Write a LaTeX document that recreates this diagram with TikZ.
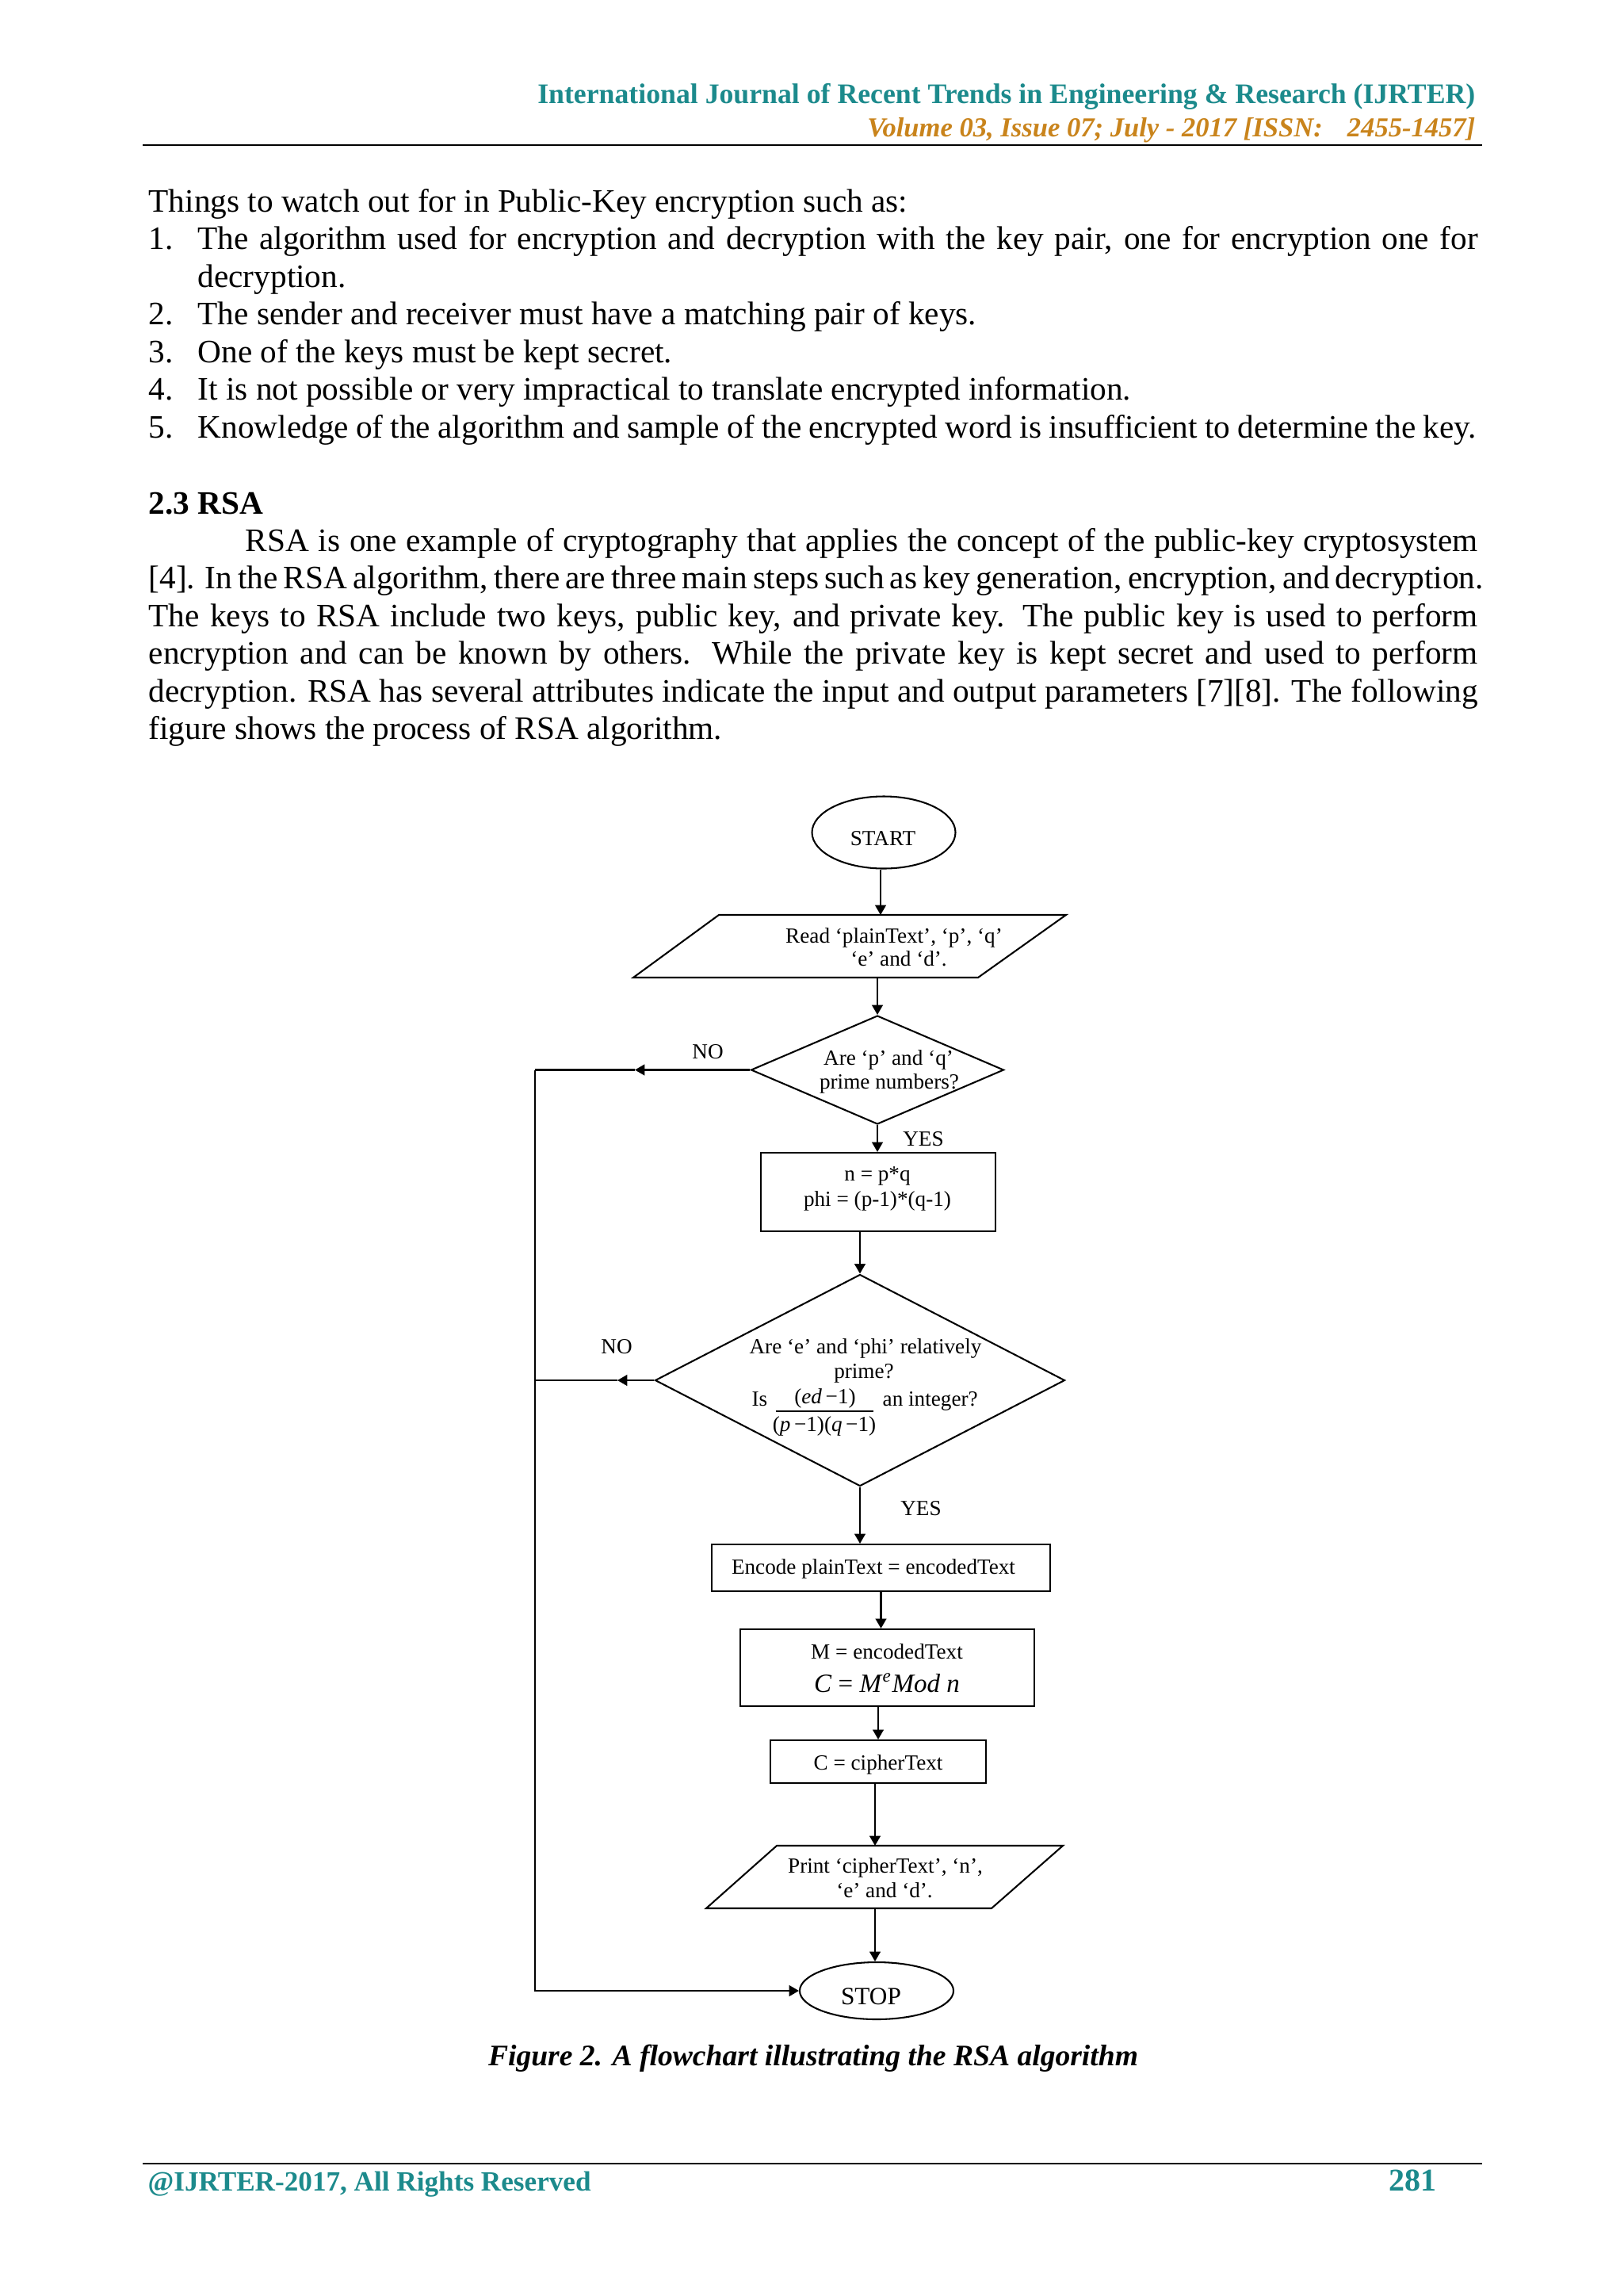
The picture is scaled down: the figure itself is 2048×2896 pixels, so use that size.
\documentclass[tikz,border=0pt]{standalone}
\usepackage{fontspec}
\usepackage{graphicx}
\setmainfont{Liberation Serif}
\usetikzlibrary{shapes.geometric,arrows.meta}
\definecolor{jteal}{RGB}{28,138,140}
\definecolor{jorange}{RGB}{201,132,28}
\newdimen\PXd \PXd=0.29067pt
\def\PX{0.29067pt}
\begin{document}
\begin{tikzpicture}[x=0.29067pt,y=-0.29067pt,
  bt/.style={font=\fontsize{12}{14}\selectfont, inner sep=0pt, anchor=base west},
  ft/.style={font=\fontsize{7.9}{9}\selectfont, inner sep=0pt, anchor=base},
  ln/.style={line width=0.6pt},
  arr/.style={line width=0.6pt, -{Triangle[length=3.6pt,width=4pt]}},
  term/.style={ellipse, draw, line width=0.6pt, inner sep=0pt},
  proc/.style={rectangle, draw, line width=0.6pt, inner sep=0pt},
  dia/.style={diamond, draw, line width=0.6pt, inner sep=0pt, aspect=1},
  hdr/.style={inner sep=0pt, font=\fontsize{10}{12}\selectfont\bfseries}
]
\fill[white] (0,0) rectangle (2048,2896);
\useasboundingbox (0,0) rectangle (2048,2896);

% ---------- header ----------
\node[hdr, anchor=base east, text=jteal] (h1) at (1862,130)
  {\resizebox{1183\PXd}{!}{International Journal of Recent Trends in Engineering \& Research (IJRTER)}};
\node[hdr, anchor=base east, text=jorange] (h2) at (1862,172)
  {\resizebox{767\PXd}{!}{\itshape Volume 03, Issue 07; July - 2017 [ISSN:\hspace{9pt}2455-1457]}};
\coordinate (hrL) at (180,183);
\coordinate (hrR) at (1870,183);
\draw[line width=0.85pt] (hrL) -- (hrR);

% ---------- body text ----------
\node[bt] (t0) at (187,267) {Things to watch out for in Public-Key encryption such as:};
\node[bt] (n1) at (187,314.5) {1.};
\node[bt] (i1) at (249,314.5) {\makebox[1615\PXd][s]{The algorithm used for encryption and decryption with the key pair, one for encryption one for}};
\node[bt] (i1b) at (249,362) {decryption.};
\node[bt] (n2) at (187,409.5) {2.};
\node[bt] (i2) at (249,409.5) {The sender and receiver must have a matching pair of keys.};
\node[bt] (n3) at (187,457) {3.};
\node[bt] (i3) at (249,457) {One of the keys must be kept secret.};
\node[bt] (n4) at (187,504.5) {4.};
\node[bt] (i4) at (249,504.5) {It is not possible or very impractical to translate encrypted information.};
\node[bt] (n5) at (187,552) {5.};
\node[bt] (i5) at (249,552) {\makebox[1613\PXd][s]{Knowledge of the algorithm and sample of the encrypted word is insufficient to determine the key.}};

\node[bt, font=\fontsize{12}{14}\selectfont\bfseries] (sec) at (187,648) {2.3 RSA};
\node[bt] (p1) at (309,695) {\makebox[1555\PXd][s]{RSA is one example of cryptography that applies the concept of the public-key cryptosystem}};
\node[bt] (p2) at (187,742.5) {\makebox[1684\PXd][s]{[4]. In the RSA algorithm, there are three main steps such as key generation, encryption, and decryption.}};
\node[bt] (p3) at (187,790) {\makebox[1677\PXd][s]{The keys to RSA include two keys, public key, and private key. The public key is used to perform}};
\node[bt] (p4) at (187,837.5) {\makebox[1677\PXd][s]{encryption and can be known by others. While the private key is kept secret and used to perform}};
\node[bt] (p5) at (187,885) {\makebox[1677\PXd][s]{decryption. RSA has several attributes indicate the input and output parameters [7][8]. The following}};
\node[bt] (p6) at (187,932.5) {figure shows the process of RSA algorithm.};

% ---------- flowchart shapes ----------
\node[term, minimum width={181*\PX}, minimum height={91*\PX}] (start) at (1115,1050) {};
\node[ft] (startT) at (1114,1066) {START};

\coordinate (rdTL) at (907,1154);
\coordinate (rdTR) at (1345,1154);
\coordinate (rdBR) at (1234,1233);
\coordinate (rdBL) at (799,1233);
\draw[ln] (rdTL) -- (rdTR) -- (rdBR) -- (rdBL) -- cycle;
\coordinate (rdT) at (1111,1154);
\coordinate (rdB) at (1107,1233);
\node[ft] (rd1) at (1128,1189) {Read ‘plainText’, ‘p’, ‘q’};
\node[ft] (rd2) at (1134,1218) {‘e’ and ‘d’.};

\node[dia, minimum width={319*\PX}, minimum height={137*\PX}] (d1) at (1107,1349.5) {};
\node[ft] (d1a) at (1121,1343) {Are ‘p’ and ‘q’};
\node[ft] (d1b) at (1122,1373) {prime numbers?};

\node[proc, minimum width={296*\PX}, minimum height={99*\PX}] (r1) at (1108,1503.5) {};
\node[ft] (r1a) at (1107,1489) {n = p*q};
\node[ft] (r1b) at (1107,1521) {phi = (p-1)*(q-1)};

\node[dia, minimum width={517*\PX}, minimum height={267*\PX}] (d2) at (1085,1741) {};
\node[ft] (d2a) at (1092,1707) {Are ‘e’ and ‘phi’ relatively};
\node[ft] (d2b) at (1090,1738) {prime?};
\node[ft, anchor=base west] (d2is) at (948,1773) {Is};
\node[ft] (num) at (1041,1770) {(\textit{ed}\,−1)};
\node[ft] (den) at (1040,1805) {(\textit{p}\,−1)(\textit{q}\,−1)};
\coordinate (barL) at (979,1780);
\coordinate (barR) at (1102,1780);
\draw[line width=0.5pt] (barL) -- (barR);
\node[ft, anchor=base west] (d2c) at (1113,1773) {an integer?};

\node[proc, minimum width={427*\PX}, minimum height={59*\PX}] (enc) at (1111.5,1977.5) {};
\node[ft] (encT) at (1102,1985) {Encode plainText = encodedText};

\node[proc, minimum width={371*\PX}, minimum height={97*\PX}] (m) at (1119.5,2103.5) {};
\node[ft] (mA) at (1119,2092) {M = encodedText};
\node[ft, font=\fontsize{9.6}{11}\selectfont] (mB) at (1119,2134) {\textit{C} = \textit{M}\textsuperscript{\textit{e}}\textit{Mod n}};

\node[proc, minimum width={272*\PX}, minimum height={54*\PX}] (c) at (1108,2222) {};
\node[ft] (cT) at (1108,2232) {C = cipherText};

\coordinate (prTL) at (980,2328);
\coordinate (prTR) at (1341,2328);
\coordinate (prBR) at (1251,2407);
\coordinate (prBL) at (891,2407);
\draw[ln] (prTL) -- (prTR) -- (prBR) -- (prBL) -- cycle;
\coordinate (prT) at (1104,2328);
\coordinate (prB) at (1104,2407);
\node[ft] (pr1) at (1117,2362) {Print ‘cipherText’, ‘n’,};
\node[ft] (pr2) at (1116,2393) {‘e’ and ‘d’.};

\node[term, minimum width={194*\PX}, minimum height={72*\PX}] (stop) at (1106,2511) {};
\node[ft, font=\fontsize{9.1}{11}\selectfont] (stopT) at (1099,2528) {STOP};

% ---------- connectors ----------
\coordinate (no1a) at (801,1349.5);
\coordinate (L1) at (675,1349.5);
\coordinate (no2a) at (779,1741);
\coordinate (L2) at (675,1741);
\coordinate (L3) at (675,2511);

\draw[arr] (start.south -| rdT) -- (rdT);
\draw[arr] (rdB) -- (d1.north);
\draw[arr] (d1.west) -- (no1a);
\draw[ln] (no1a) -- (L1);
\draw[arr] (L1) -- (L3) -- (stop.west);
\draw[arr] (d1.south) -- (d1.south |- r1.north);
\draw[arr] (r1.south -| d2.north) -- (d2.north);
\draw[arr] (d2.west) -- (no2a);
\draw[ln] (no2a) -- (L2);
\draw[arr] (d2.south) -- (d2.south |- enc.north);
\draw[arr] (enc.south) -- (enc.south |- m.north);
\draw[arr] (m.south -| c.north) -- (c.north);
\draw[arr] (c.south -| prT) -- (prT);
\draw[arr] (prB) -- (prB |- stop.north);

\node[ft] (no1) at (893,1335) {NO};
\node[ft] (yes1) at (1165,1445) {YES};
\node[ft] (no2) at (778,1707) {NO};
\node[ft] (yes2) at (1162,1911) {YES};

% ---------- caption ----------
\node[inner sep=0pt, anchor=base, font=\fontsize{12}{14}\selectfont\bfseries\itshape] (cap) at (1026,2605)
  {\resizebox{820\PXd}{!}{Figure 2. A flowchart illustrating the RSA algorithm}};

% ---------- footer ----------
\coordinate (frL) at (180,2729);
\coordinate (frR) at (1870,2729);
\draw[line width=0.85pt] (frL) -- (frR);
\node[hdr, anchor=base west, text=jteal] (f1) at (186,2763) {\resizebox{559\PXd}{!}{@IJRTER-2017, All Rights Reserved}};
\node[hdr, anchor=base east, text=jteal] (f2) at (1813,2763) {\resizebox{60\PXd}{!}{281}};
\end{tikzpicture}
\end{document}
